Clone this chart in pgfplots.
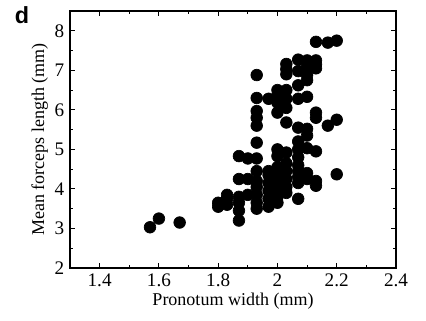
\documentclass[border=0pt]{standalone}
\usepackage{pgfplots}
\pgfplotsset{compat=1.18}
\usepackage{fontspec}
\setmainfont{Liberation Serif}
\newfontfamily\sansb{Liberation Sans}
\begin{document}
\begin{tikzpicture}
\begin{axis}[
  width=195.6pt, height=154.2pt, scale only axis,
  xmin=1.3, xmax=2.4, ymin=2, ymax=8.5,
  xtick={1.4,1.6,...,2.4},
  xticklabels={1.4,1.6,1.8,2,2.2,2.4},
  ytick={2,3,...,8},
  minor xtick={1.3,1.5,1.7,1.9,2.1,2.3},
  minor ytick={2.5,3.5,...,8.5},
  tick align=inside,
  major tick length=3pt, minor tick length=2pt,
  axis line style={line width=0.9pt},
  every tick/.style={black, line width=0.6pt},
  tick label style={font=\fontsize{11.5}{13}\selectfont},
  /pgf/number format/assume math mode=true,
  xlabel={Pronotum width (mm)},
  ylabel={Mean forceps length (mm)},
  label style={font=\fontsize{10.8}{13}\selectfont},
  xlabel style={yshift=3pt},
  ylabel style={yshift=-3pt},
  clip=false,
]
\addplot[only marks, mark=*, mark size=3.5pt, mark options={fill=black, draw=black}] table {
x y
1.57 3.03
1.60 3.25
1.67 3.15
1.80 3.55
1.80 3.65
1.83 3.60
1.83 3.75
1.83 3.85
1.87 3.20
1.87 3.45
1.87 3.65
1.87 3.80
1.90 3.85
1.87 4.25
1.90 4.25
1.87 4.83
1.90 4.77
1.93 4.77
1.93 3.50
1.93 3.65
1.93 3.85
1.93 4.05
1.93 4.20
1.93 4.45
1.93 5.17
1.93 5.60
1.93 5.80
1.93 5.97
1.93 6.30
1.93 6.88
1.97 3.55
1.97 3.75
1.97 3.95
1.97 4.15
1.97 4.35
1.97 4.45
1.97 6.28
2.00 3.65
2.00 3.80
2.00 4.00
2.00 4.20
2.00 4.35
2.00 4.55
2.00 4.83
2.00 5.00
2.00 5.93
2.00 6.18
2.00 6.35
2.00 6.50
2.03 3.90
2.03 4.05
2.03 4.25
2.03 4.45
2.03 4.65
2.03 4.92
2.03 5.68
2.03 6.05
2.03 6.28
2.03 6.50
2.03 6.90
2.03 7.03
2.03 7.16
2.07 3.75
2.07 4.15
2.07 4.30
2.07 4.45
2.07 4.60
2.07 4.80
2.07 5.00
2.07 5.20
2.07 5.55
2.07 6.28
2.07 6.62
2.07 6.98
2.07 7.27
2.10 4.25
2.10 4.40
2.10 5.03
2.10 5.35
2.10 5.52
2.10 6.33
2.10 6.75
2.10 6.88
2.10 7.10
2.10 7.25
2.13 4.08
2.13 4.20
2.13 4.95
2.13 5.80
2.13 5.93
2.13 7.05
2.13 7.15
2.13 7.25
2.13 7.72
2.17 5.60
2.17 7.70
2.20 4.37
2.20 5.75
2.20 7.75
};
\end{axis}
\node[font=\sansb\bfseries\fontsize{14}{16}\selectfont, anchor=center] at ([xshift=-28.8pt,yshift=-2.4pt]current axis.north west) {d};
\path (current axis.south west) ++(-42pt,-31.8pt) rectangle ++(255.6pt,192.6pt);
\end{tikzpicture}
\end{document}
